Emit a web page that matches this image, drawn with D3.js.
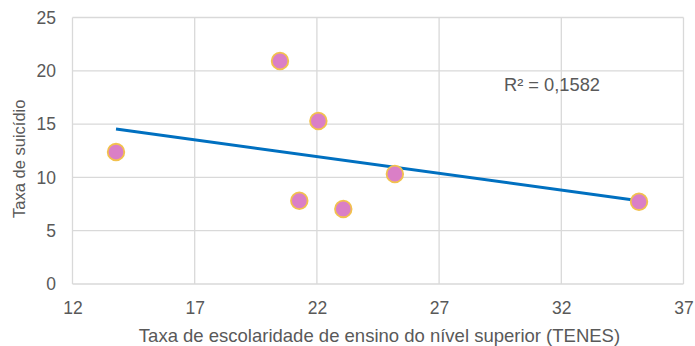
<!DOCTYPE html>
<html lang="pt">
<head>
<meta charset="UTF-8">
<title>Taxa de suicídio x TENES</title>
<style>
  body { margin: 0; background: #fff; }
  text { font-family: "Liberation Sans", Arial, sans-serif; fill: #595959; }
</style>
</head>
<body>
<svg id="chart" width="695" height="346"></svg>
<script src="https://cdn.jsdelivr.net/npm/d3@7"></script>
<script>
    // values
    let tenes = [13.78, 20.49, 22.06, 21.28, 23.08, 25.19, 35.18]
    let suicidio = [12.38, 20.92, 15.29, 7.81, 7.04, 10.32, 7.72]
    let xTicks = [12, 17, 22, 27, 32, 37]
    let yTicks = [0, 5, 10, 15, 20, 25]
    let r2Label = "R² = 0,1582"

    let svg = d3.select("#chart")
    let plotLeft = 72.5, plotRight = 683.5, plotTop = 17.5, plotBottom = 284

    let x = d3.scaleLinear().domain([12, 37]).range([plotLeft, plotRight])
    let y = d3.scaleLinear().domain([0, 25]).range([plotBottom, plotTop])

    // grid
    let grid = svg.append("g").attr("stroke", "#d9d9d9").attr("stroke-width", 1.3)
    grid.selectAll(".gx").data(xTicks).enter().append("line")
        .attr("x1", d => x(d)).attr("x2", d => x(d))
        .attr("y1", plotTop).attr("y2", plotBottom)
    grid.selectAll(".gy").data(yTicks).enter().append("line")
        .attr("x1", plotLeft).attr("x2", plotRight)
        .attr("y1", d => y(d)).attr("y2", d => y(d))

    // axes (labels only)
    let xAxis = d3.axisBottom(x).tickValues(xTicks).tickSize(0).tickPadding(17.5)
    svg.append("g").attr("transform", `translate(0,${plotBottom})`).call(xAxis)
        .call(g => g.select(".domain").remove())
        .selectAll("text").attr("font-size", 17.5).attr("fill", "#595959")
        .attr("font-family", '"Liberation Sans", Arial, sans-serif')

    let yAxis = d3.axisLeft(y).tickValues(yTicks).tickSize(0).tickPadding(16.5)
    svg.append("g").attr("transform", `translate(${plotLeft},0)`).call(yAxis)
        .call(g => g.select(".domain").remove())
        .selectAll("text").attr("font-size", 17.5).attr("fill", "#595959")
        .attr("font-family", '"Liberation Sans", Arial, sans-serif')

    // linear trend (least squares)
    let pts = tenes.map((v, i) => [v, suicidio[i]])
    let mx = d3.mean(tenes), my = d3.mean(suicidio)
    let sxy = d3.sum(pts, p => (p[0] - mx) * (p[1] - my))
    let sxx = d3.sum(pts, p => (p[0] - mx) ** 2)
    let slope = sxy / sxx, icept = my - slope * mx
    let ext = d3.extent(tenes)
    svg.append("line")
        .attr("x1", x(ext[0])).attr("y1", y(icept + slope * ext[0]))
        .attr("x2", x(ext[1])).attr("y2", y(icept + slope * ext[1]))
        .attr("stroke", "#0070c0").attr("stroke-width", 3)

    // points
    svg.selectAll("circle").data(pts).enter().append("circle")
        .attr("cx", d => x(d[0])).attr("cy", d => y(d[1]))
        .attr("r", 8.3)
        .attr("fill", "#da7fc6")
        .attr("stroke", "#f2c14e").attr("stroke-width", 1.8)

    svg.append("text").attr("x", 504).attr("y", 91)
        .attr("font-size", 18.3).text(r2Label)

    // titles
    svg.append("text").attr("x", 379.5).attr("y", 342)
        .attr("text-anchor", "middle").attr("font-size", 18.5)
        .text("Taxa de escolaridade de ensino do nível superior (TENES)")
    svg.append("text").attr("transform", `translate(25,${(plotTop + plotBottom) / 2 + 8}) rotate(-90)`)
        .attr("text-anchor", "middle").attr("font-size", 16.5)
        .text("Taxa de suicídio")
</script>
</body>
</html>
